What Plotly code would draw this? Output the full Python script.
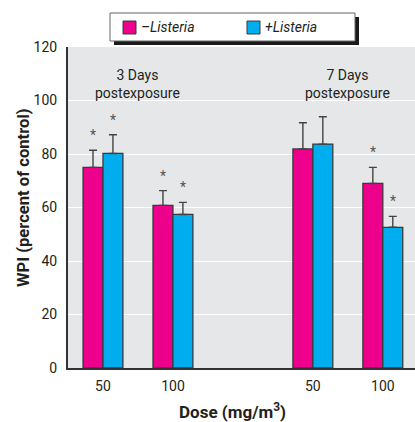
import plotly.graph_objects as go

# ---- data ----
dose_labels = ["50", "100", "50", "100"]
group_labels = ["3 Days<br>postexposure", "7 Days<br>postexposure"]
minus_listeria = [75.0, 60.8, 81.9, 69.0]
minus_err = [6.4, 5.5, 9.8, 6.0]
minus_sig = [True, True, False, True]
plus_listeria = [80.2, 57.4, 83.7, 52.6]
plus_err = [7.0, 4.5, 10.2, 4.1]
plus_sig = [True, True, False, True]
y_ticks = [0, 20, 40, 60, 80, 100, 120]

x_pos = [0, 1, 3, 4]
MAG = "#EC008C"
CYA = "#00AEEF"
FONT = "Liberation Sans Narrow, Roboto, sans-serif"
BW = 0.285

# layout geometry (pixels)
W, H = 415, 422
ML, MR, MT, MB = 68, 0, 47, 54
PW, PH = W - ML - MR, H - MT - MB


def px(x):
    return (x - ML) / PW


def py(y):
    return (H - MB - y) / PH


fig = go.Figure()
for vals, errs, col, off in [(minus_listeria, minus_err, MAG, -BW), (plus_listeria, plus_err, CYA, 0)]:
    fig.add_trace(go.Bar(
        x=x_pos, y=vals, width=BW, offset=off,
        marker=dict(color=col, line=dict(color="#3a3a3a", width=1.3)),
        error_y=dict(type="data", symmetric=False, array=errs, arrayminus=[0] * len(errs),
                     color="#444444", thickness=1.4, width=4),
        showlegend=False, hoverinfo="skip",
    ))

annotations = []
for vals, errs, sig, off in [(minus_listeria, minus_err, minus_sig, -BW / 2),
                             (plus_listeria, plus_err, plus_sig, BW / 2)]:
    for xp, v, e, s in zip(x_pos, vals, errs, sig):
        if s:
            annotations.append(dict(x=xp + off, y=v + e, xref="x", yref="y", text="*",
                                    showarrow=False, yshift=15, yanchor="middle",
                                    font=dict(family=FONT, size=14, color="#555555")))

# group labels
for gx, txt in zip([0.5, 3.5], group_labels):
    annotations.append(dict(x=gx, y=100, xref="x", yref="y", text=txt, showarrow=False,
                            yanchor="bottom", yshift=-2, align="center",
                            font=dict(family=FONT, size=14, color="#231f20")))

# axis titles
annotations.append(dict(x=px(232), y=py(411), xref="paper", yref="paper",
                        text="<b>Dose (mg/m<sup>3</sup>)</b>", showarrow=False,
                        xanchor="center", yanchor="middle",
                        font=dict(family=FONT, size=17, color="#231f20")))
annotations.append(dict(x=px(23), y=py(198), xref="paper", yref="paper",
                        text="<b>WPI (percent of control)</b>", showarrow=False, textangle=-90,
                        xanchor="center", yanchor="middle",
                        font=dict(family=FONT, size=16.6, color="#231f20")))

# manual legend
shapes = [
    dict(type="rect", xref="paper", yref="paper", x0=px(114), x1=px(359), y0=py(45), y1=py(17),
         fillcolor="#1a1a1a", line=dict(width=0), layer="above"),
    dict(type="rect", xref="paper", yref="paper", x0=px(110), x1=px(355), y0=py(41), y1=py(13),
         fillcolor="white", line=dict(color="#666666", width=1), layer="above"),
    dict(type="rect", xref="paper", yref="paper", x0=px(123), x1=px(136), y0=py(34), y1=py(21),
         fillcolor=MAG, line=dict(color="#3a3a3a", width=1), layer="above"),
    dict(type="rect", xref="paper", yref="paper", x0=px(247), x1=px(260), y0=py(34), y1=py(21),
         fillcolor=CYA, line=dict(color="#3a3a3a", width=1), layer="above"),
]
for lx, txt in [(139, "<i>\u2013Listeria</i>"), (263, "<i>+Listeria</i>")]:
    annotations.append(dict(x=px(lx), y=py(27.5), xref="paper", yref="paper", text=txt,
                            showarrow=False, xanchor="left", yanchor="middle",
                            font=dict(family=FONT, size=14, color="#231f20")))

fig.update_layout(
    width=W, height=H,
    margin=dict(l=ML, r=MR, t=MT, b=MB, pad=0),
    paper_bgcolor="white", plot_bgcolor="#E6E7E8",
    barmode="overlay",
    font=dict(family=FONT, color="#231f20"),
    xaxis=dict(range=[-0.5, 4.46], tickvals=x_pos, ticktext=dose_labels, showgrid=False,
               zeroline=False, showline=True, linecolor="#333333", linewidth=2,
               ticks="", tickfont=dict(size=14, family=FONT), ticklabelstandoff=4),
    yaxis=dict(range=[0, 120], tickvals=y_ticks, showgrid=True, gridcolor="white", gridwidth=1,
               zeroline=False, showline=True, linecolor="#333333", linewidth=2, ticks="",
               tickfont=dict(size=14, family=FONT), ticklabelstandoff=6),
    annotations=annotations,
    shapes=shapes,
)

fig.write_html("out.html", config={"displayModeBar": False},
               post_script="document.body.style.margin='0';document.body.style.padding='0';")
